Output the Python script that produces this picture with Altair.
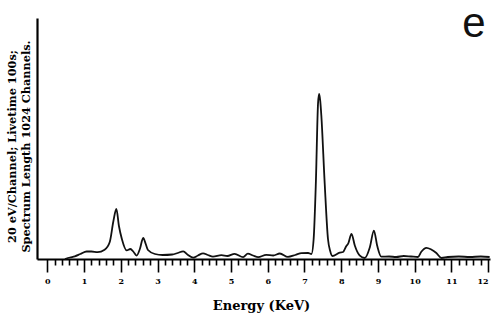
import altair as alt
import pandas as pd

# EDS spectrum (energy in keV, counts in arbitrary units)
energy_kev = [0.48, 0.62, 0.75, 0.90, 1.07, 1.20, 1.37, 1.56, 1.70, 1.80, 1.88, 1.95,
              2.03, 2.16, 2.26, 2.35, 2.43, 2.52, 2.61, 2.68, 2.74, 2.93, 3.14, 3.40,
              3.55, 3.70, 3.83, 3.97, 4.10, 4.24, 4.37, 4.51, 4.74, 4.90, 5.10, 5.33,
              5.46, 5.60, 5.74, 5.96, 6.15, 6.33, 6.55, 6.75, 6.92, 7.10, 7.19, 7.25,
              7.31, 7.37, 7.40, 7.43, 7.46, 7.55, 7.64, 7.70, 7.76, 7.96, 8.05, 8.14,
              8.19, 8.28, 8.37, 8.50, 8.64, 8.78, 8.89, 8.98, 9.09, 9.30, 9.50, 9.70,
              9.90, 10.09, 10.18, 10.32, 10.45, 10.59, 10.73, 10.90, 11.20, 11.50,
              11.80, 12.04]
counts = [0, 1.5, 2.7, 5, 7.5, 7.5, 6.8, 9.2, 17, 38, 50, 33,
          20, 8.6, 10, 7, 3.4, 10, 21, 15, 9, 5, 4, 4.5,
          6, 7.7, 4, 1.3, 3.5, 5.7, 4, 2.3, 3.8, 3, 5.2, 1.8,
          5.4, 3.5, 1.9, 4.1, 3.5, 5.5, 2.1, 4, 5.9, 6, 5, 20,
          76, 156, 165, 158, 143, 76, 20, 8, 3, 6.3, 7, 13,
          15.3, 25.2, 13.5, 3.6, 1, 11.8, 28.4, 13.2, 2.3, 2.5, 2, 3,
          2.5, 2, 7.3, 11.2, 9.5, 6, 1, 2, 2.5, 2,
          2.5, 2]

# axis ticks: labelled every 1 keV, minor ticks every 0.2 keV
tick_values = [round(i * 0.2, 1) for i in range(0, 61)]
x_domain = [-0.28, 12.05]
y_domain = [0, 241]

x_title = "Energy (KeV)"
y_title = ["20 eV/Channel; Livetime 100s;", "Spectrum Length 1024 Channels."]
panel_label = ["e"]

df = pd.DataFrame({"energy": energy_kev, "counts": counts})

W, H = 453, 241
is_major = "abs(datum.value - round(datum.value)) < 0.01"

line = alt.Chart(df).mark_line(
    color="#111111", strokeWidth=1.8, interpolate="monotone"
).encode(
    x=alt.X(
        "energy:Q",
        scale=alt.Scale(domain=x_domain, nice=False, zero=False),
        axis=alt.Axis(
            values=tick_values,
            title=x_title,
            grid=False,
            domainColor="#000000",
            domainWidth=2.2,
            tickColor="#000000",
            tickWidth=1.6,
            tickSize={"condition": {"test": is_major, "value": 13}, "value": 6},
            labelExpr=f"{is_major} ? format(datum.value, 'd') : ''",
            labelAlign={"condition": {"test": "datum.value >= 11.9", "value": "right"},
                        "value": "center"},
            labelOverlap=False,
            labelFlush=False,
            labelBound=False,
            labelFont="DejaVu Serif",
            labelFontWeight="bold",
            labelFontSize=8,
            labelColor="#000000",
            labelPadding=5,
            titleFont="DejaVu Serif",
            titleFontWeight="bold",
            titleFontSize=13,
            titleColor="#000000",
            titleX=224,
            titleY=46,
            titleBaseline="middle",
            titleAlign="center",
        ),
    ),
    y=alt.Y(
        "counts:Q",
        scale=alt.Scale(domain=y_domain, nice=False),
        axis=alt.Axis(
            ticks=False,
            labels=False,
            grid=False,
            domainColor="#000000",
            domainWidth=2.2,
            title=y_title,
            titleFont="DejaVu Serif",
            titleFontWeight="bold",
            titleFontSize=11.3,
            titleLineHeight=14,
            titleColor="#000000",
            titleAngle=270,
            titleX=-25,
            titleY=128,
            titleAlign="center",
            titleBaseline="middle",
        ),
    ),
)

label = alt.Chart(pd.DataFrame({"t": panel_label})).mark_text(
    font="Liberation Sans", fontSize=42, color="#111111", align="center",
    baseline="alphabetic"
).encode(text="t:N", x=alt.value(437), y=alt.value(19))

chart = alt.layer(line, label).properties(
    width=W,
    height=H,
    padding={"left": 37, "top": 18, "right": 1, "bottom": 61},
    autosize=alt.AutoSizeParams(type="none"),
    background="white",
).configure_view(stroke=None)

chart.save("out.html", embed_options={"renderer": "svg", "actions": False})
